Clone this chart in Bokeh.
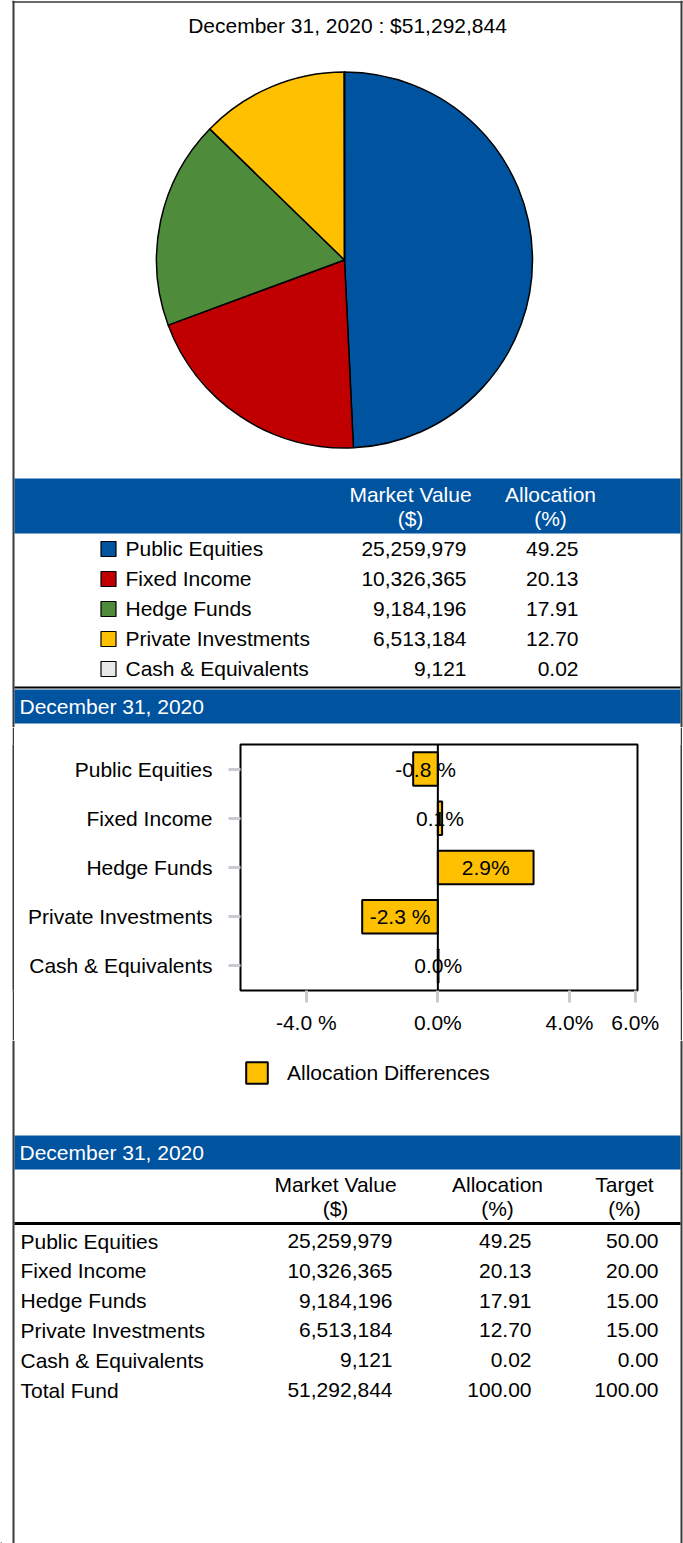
import math
from bokeh.plotting import figure
from bokeh.models import (Range1d, FactorRange, FixedTicker, Span, Legend,
                          LegendItem, Spacer)
from bokeh.layouts import column, row
from bokeh.embed import file_html
from bokeh.resources import INLINE
from bokeh.core.properties import value

# ---------------- data ----------------
report_date = "December 31, 2020"
total_value = 51292844
categories = ["Public Equities", "Fixed Income", "Hedge Funds",
              "Private Investments", "Cash & Equivalents"]
market_values = [25259979, 10326365, 9184196, 6513184, 9121]
allocations = [49.25, 20.13, 17.91, 12.70, 0.02]
targets = [50.00, 20.00, 15.00, 15.00, 0.00]
total_allocation = 100.00
total_target = 100.00
differences = [-0.75, 0.13, 2.91, -2.30, 0.02]
difference_labels = ["-0.8 %", "0.1%", "2.9%", "-2.3 %", "0.0%"]
x_ticks = [-4, 0, 4, 6]
x_tick_labels = ["-4.0 %", "0.0%", "4.0%", "6.0%"]
slice_colors = ["#00539F", "#C00000", "#4E8B3A", "#FFC000", "#E8E8E8"]
legend_label = "Allocation Differences"

# ---------------- style ----------------
FONT = "Liberation Sans"
FS = "21px"
BLUE = "#00539F"
BORDER = "#3a3a3a"
BAR = "#FFC000"
TICK = "#C8CCD1"
W = 683


def page_fig(top, bottom):
    p = figure(width=W, height=bottom - top,
               x_range=Range1d(0, W), y_range=Range1d(-bottom, -top),
               x_axis_location=None, y_axis_location=None,
               output_backend="svg", toolbar_location=None, min_border=0)
    p.grid.visible = False
    p.outline_line_color = None
    p.segment(x0=[13, 681], y0=[-top, -top], x1=[13, 681], y1=[-bottom, -bottom],
              line_color=BORDER, line_width=2)
    return p


def txt(p, xs, ys, texts, align="left", color="black", size=FS):
    p.text(x=xs, y=[-y for y in ys], text=texts, text_align=align,
           text_baseline="middle", text_color=color,
           text_font=value(FONT), text_font_size=size)


# ---------------- figure A: pie + legend table ----------------
A_TOP, A_BOT = 0, 727
pa = page_fig(A_TOP, A_BOT)
pa.segment(x0=[12], y0=[-1.5], x1=[682], y1=[-1.5], line_color=BORDER, line_width=1.5)
txt(pa, [347], [25], [f"{report_date} : ${total_value:,}"], align="center")

tot = sum(allocations)
cum = 0.0
starts, ends = [], []
for a in allocations:
    starts.append(math.pi / 2 - 2 * math.pi * cum / tot)
    cum += a
    ends.append(math.pi / 2 - 2 * math.pi * cum / tot)
pa.wedge(x=344, y=-259.5, radius=188, start_angle=starts, end_angle=ends,
         direction="clock", fill_color=slice_colors, line_color="black", line_width=1.5)

pa.quad(left=14, right=680, top=-478, bottom=-533, fill_color=BLUE, line_color=None)
txt(pa, [410, 550], [494, 494], ["Market Value", "Allocation"], align="center", color="white")
txt(pa, [410, 550], [518, 518], ["($)", "(%)"], align="center", color="white")

rows_a = [548 + 30 * i for i in range(len(categories))]
pa.rect(x=108, y=[-(r + 0.5) for r in rows_a], width=15, height=15,
        fill_color=slice_colors, line_color="black", line_width=1.2)
txt(pa, [125] * 5, rows_a, categories)
txt(pa, [466] * 5, rows_a, [f"{v:,}" for v in market_values], align="right")
txt(pa, [578] * 5, rows_a, [f"{a:.2f}" for a in allocations], align="right")

pa.segment(x0=[14], y0=[-687], x1=[680], y1=[-687], line_color="black", line_width=2)
pa.quad(left=14, right=680, top=-689, bottom=-723, fill_color=BLUE, line_color=None)
txt(pa, [19], [706], [report_date], color="white")

# ---------------- figure B: allocation differences bar chart ----------------
B_TOP, B_BOT = 727, 1040
BH = B_BOT - B_TOP


def dark_strip(w):
    s = figure(width=w, height=BH, x_range=Range1d(0, 1), y_range=Range1d(0, 1),
               x_axis_location=None, y_axis_location=None,
               output_backend="svg", toolbar_location=None, min_border=0,
               background_fill_color=BORDER, border_fill_color=BORDER)
    s.grid.visible = False
    s.outline_line_color = None
    return s


pb = figure(width=666, height=BH, y_range=FactorRange(factors=categories[::-1]),
            x_range=Range1d(-6, 6.07), output_backend="svg", toolbar_location=None,
            min_border_left=226, min_border_right=43, min_border_top=17, min_border_bottom=50)
pb.grid.visible = False
pb.outline_line_color = "black"
pb.outline_line_width = 2
bars = pb.hbar(y=categories, left=0, right=differences, height=0.68,
               fill_color=BAR, line_color="black", line_width=2)
pb.add_layout(Span(location=0, dimension="height", line_color="black", line_width=2))
pb.text(x=[d / 2 for d in differences], y=categories, text=difference_labels,
        text_align="center", text_baseline="middle", text_color="black",
        text_font=value(FONT), text_font_size=FS)

for ax in (pb.xaxis[0], pb.yaxis[0]):
    ax.axis_line_color = None
    ax.major_tick_line_color = TICK
    ax.major_tick_line_width = 3
    ax.major_tick_out = 12
    ax.major_tick_in = 0
    ax.minor_tick_line_color = None
    ax.major_label_text_font = FONT
    ax.major_label_text_font_size = FS
    ax.major_label_text_color = "black"
pb.yaxis[0].major_label_standoff = 16
pb.xaxis[0].major_label_standoff = 8
pb.xaxis[0].ticker = FixedTicker(ticks=x_ticks)
pb.xaxis[0].major_label_overrides = {t: l for t, l in zip(x_ticks, x_tick_labels)}

chart_row = row(Spacer(width=12, height=BH), dark_strip(2), pb, dark_strip(2))

# ---------------- figure C: legend + summary table ----------------
C_TOP, C_BOT = 1040, 1543
pc = page_fig(C_TOP, C_BOT)

# legend proxy renderer (kept outside the visible range; only its style is used)
swatch = pc.hbar(y=[-2000], left=[0], right=[1], height=1,
                 fill_color=BAR, line_color="black", line_width=2)
legend = Legend(items=[LegendItem(label=legend_label, renderers=[swatch])],
                location=(243, C_BOT - 1086), orientation="horizontal",
                glyph_width=27, glyph_height=27, label_standoff=17,
                label_text_font=FONT, label_text_font_size=FS,
                label_text_color="black",
                border_line_color=None, background_fill_alpha=0,
                margin=0, padding=0)
pc.add_layout(legend)

pc.quad(left=14, right=680, top=-1135, bottom=-1169, fill_color=BLUE, line_color=None)
txt(pc, [19], [1152], [report_date], color="white")
txt(pc, [335, 497, 624], [1184] * 3, ["Market Value", "Allocation", "Target"], align="center")
txt(pc, [335, 497, 624], [1208] * 3, ["($)", "(%)", "(%)"], align="center")
pc.segment(x0=[14], y0=[-1223], x1=[680], y1=[-1223], line_color="black", line_width=3)

names_c = categories + ["Total Fund"]
vals_c = market_values + [total_value]
alloc_c = allocations + [total_allocation]
targ_c = targets + [total_target]
rows_c = [1240.5 + 29.8 * i for i in range(len(names_c))]
txt(pc, [20] * 6, rows_c, names_c)
txt(pc, [392] * 6, rows_c, [f"{v:,}" for v in vals_c], align="right")
txt(pc, [531] * 6, rows_c, [f"{a:.2f}" for a in alloc_c], align="right")
txt(pc, [658] * 6, rows_c, [f"{t:.2f}" for t in targ_c], align="right")

layout = column(pa, chart_row, pc)
open("out.html", "w").write(file_html(layout, INLINE))
